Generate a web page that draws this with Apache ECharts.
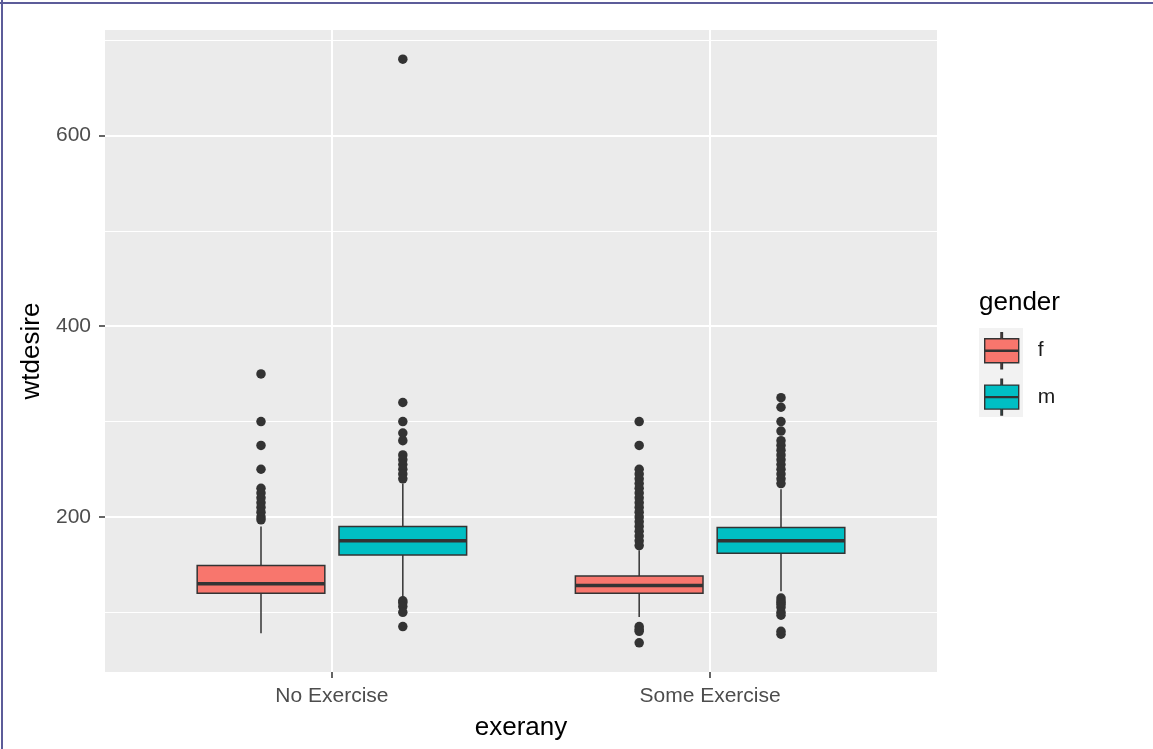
<!DOCTYPE html>
<html>
<head>
<meta charset="utf-8">
<title>wtdesire by exerany and gender</title>
<script src="https://cdn.jsdelivr.net/npm/echarts@6/dist/echarts.min.js"></script>
<style>
  html, body { margin: 0; padding: 0; background: #ffffff; }
  #chart { width: 1153px; height: 749px; }
</style>
</head>
<body>
<div id="chart"></div>
<script>
// Exercise groups on the x axis and the fill groups
const categories = ['No Exercise', 'Some Exercise'];
const genders = ['f', 'm'];

// Box statistics per exercise group: [lower whisker, Q1, median, Q3, upper whisker]
const femaleStats = [
  [78, 120, 130, 149, 190],
  [95, 120, 128, 138, 165]
];
const maleStats = [
  [115, 160, 175, 190, 235],
  [122, 162, 175, 189, 229]
];

// Outlying values per exercise group
const femaleOutliers = [
  [350, 300, 275, 250, 230, 225, 220, 215, 210, 205, 200, 197],
  [300, 275, 250, 245, 240, 235, 230, 225, 220, 215, 210, 205, 200, 195, 190, 185, 180, 175, 170,
   85, 82, 80, 68]
];
const maleOutliers = [
  [680, 320, 300, 288, 280, 265, 260, 255, 250, 245, 240,
   112, 110, 106, 100, 85],
  [325, 315, 300, 290, 280, 275, 270, 265, 260, 255, 250, 245, 240, 235,
   115, 112, 110, 108, 105, 100, 97, 80, 77]
];

// Tick values
const yTicks = [200, 400, 600];
const yMinorTicks = [100, 300, 500, 700];

const FILLS = { f: '#F8766D', m: '#00BFC4' };
const INK = '#333333';
const FONT = '"Liberation Sans", Arial, Helvetica, sans-serif';
const DODGE = 0.1875;      // offset of each box from its category centre
const HALF = 0.16875;      // half box width in category units

// continuous y range padded 5% on each side, discrete x range padded 0.6
const allValues = []
  .concat(...femaleStats, ...maleStats, ...femaleOutliers, ...maleOutliers);
const vMin = Math.min(...allValues);
const vMax = Math.max(...allValues);
const pad = (vMax - vMin) * 0.05;
const yMin = vMin - pad;
const yMax = vMax + pad;
const xMin = 1 - 0.6;
const xMax = categories.length + 0.6;

function boxData(stats) {
  return stats.map((s, i) => [i + 1].concat(s));
}
function outlierData(groups, offset) {
  const pts = [];
  groups.forEach((vals, i) => vals.forEach(v => pts.push([i + 1 + offset, v])));
  return pts;
}

function boxRenderer(offset, fill) {
  return function (params, api) {
    const x = api.value(0) + offset;
    const wLo = api.coord([x, api.value(1)]);
    const q1 = api.coord([x, api.value(2)]);
    const q3 = api.coord([x, api.value(4)]);
    const wHi = api.coord([x, api.value(5)]);
    const left = api.coord([x - HALF, api.value(4)]);
    const right = api.coord([x + HALF, api.value(2)]);
    const mL = api.coord([x - HALF, api.value(3)]);
    const mR = api.coord([x + HALF, api.value(3)]);
    return {
      type: 'group',
      children: [
        { type: 'line', shape: { x1: wLo[0], y1: wLo[1], x2: q1[0], y2: q1[1] },
          style: { stroke: INK, lineWidth: 1.5 } },
        { type: 'line', shape: { x1: q3[0], y1: q3[1], x2: wHi[0], y2: wHi[1] },
          style: { stroke: INK, lineWidth: 1.5 } },
        { type: 'rect',
          shape: { x: left[0], y: left[1], width: right[0] - left[0], height: right[1] - left[1] },
          style: { fill: fill, stroke: INK, lineWidth: 1.5 } },
        { type: 'line', shape: { x1: mL[0], y1: mL[1], x2: mR[0], y2: mR[1] },
          style: { stroke: INK, lineWidth: 3.5 } }
      ]
    };
  };
}

// legend glyph: box with whisker stems and a median bar
const KEY_ICON = 'path://M16.25,0 h1.5 v6 H34 V30 H17.75 v6 h-1.5 v-6 H0 V6 H16.25 Z M0,17.5 H34 V18.5 H0 Z';

const chart = echarts.init(document.getElementById('chart'), null, { renderer: 'canvas' });

chart.setOption({
  backgroundColor: '#ffffff',
  animation: false,
  textStyle: { fontFamily: FONT },
  title: {
    text: 'gender',
    left: 979,
    top: 290,
    padding: 0,
    textStyle: { fontFamily: FONT, fontSize: 26, fontWeight: 'normal', color: '#000000' }
  },
  legend: {
    orient: 'vertical',
    left: 984,
    top: 332,
    padding: 0,
    itemWidth: 34,
    itemHeight: 36,
    itemGap: 9,
    icon: KEY_ICON,
    itemStyle: { borderColor: INK, borderWidth: 1.4 },
    textStyle: { fontFamily: FONT, fontSize: 21, color: '#1a1a1a', padding: [0, 0, 0, 14] },
    data: genders.map(g => ({ name: g, itemStyle: { color: FILLS[g] } }))
  },
  graphic: [
    { type: 'rect', z: 0, shape: { x: 979, y: 328, width: 44, height: 89 },
      style: { fill: '#f2f2f2' } },
    { type: 'line', z: 10, shape: { x1: 0, y1: 3, x2: 1153, y2: 3 },
      style: { stroke: '#5c5c99', lineWidth: 2 } },
    { type: 'line', z: 10, shape: { x1: 2, y1: 0, x2: 2, y2: 749 },
      style: { stroke: '#5c5c99', lineWidth: 2 } }
  ],
  grid: {
    left: 105, top: 30, width: 832, height: 642,
    show: true, backgroundColor: '#ebebeb', borderWidth: 0
  },
  xAxis: {
    type: 'value',
    min: xMin,
    max: xMax,
    name: 'exerany',
    nameLocation: 'middle',
    nameGap: 43,
    nameTextStyle: { fontFamily: FONT, fontSize: 26, color: '#000000' },
    axisLine: { show: false },
    axisTick: { show: true, length: 6, customValues: [1, 2],
      lineStyle: { color: INK, width: 1.5 } },
    axisLabel: { customValues: [1, 2], margin: 14, fontFamily: FONT, fontSize: 21,
      color: '#4d4d4d', formatter: v => categories[Math.round(v) - 1] },
    splitLine: { show: true, lineStyle: { color: '#ffffff', width: 2 } }
  },
  yAxis: [
    {
      type: 'value',
      min: yMin,
      max: yMax,
      name: 'wtdesire',
      nameLocation: 'middle',
      nameGap: 57,
      nameTextStyle: { fontFamily: FONT, fontSize: 26, color: '#000000' },
      axisLine: { show: false },
      axisTick: { show: true, length: 6, customValues: yTicks,
        lineStyle: { color: INK, width: 1.5 } },
      axisLabel: { customValues: yTicks, margin: 14, fontFamily: FONT, fontSize: 21,
        color: '#4d4d4d' },
      splitLine: { show: true, lineStyle: { color: '#ffffff', width: 2 } },
      z: 1
    },
    {
      type: 'value',
      min: yMin,
      max: yMax,
      axisLine: { show: false },
      axisTick: { show: false, customValues: yMinorTicks },
      axisLabel: { show: false, customValues: yMinorTicks },
      splitLine: { show: true, lineStyle: { color: '#ffffff', width: 1.1 } },
      z: 0
    }
  ],
  series: [
    {
      name: 'f', type: 'custom', z: 2,
      renderItem: boxRenderer(-DODGE, FILLS.f),
      encode: { x: 0, y: [1, 2, 3, 4, 5] },
      itemStyle: { color: FILLS.f },
      data: boxData(femaleStats)
    },
    {
      name: 'm', type: 'custom', z: 2,
      renderItem: boxRenderer(DODGE, FILLS.m),
      encode: { x: 0, y: [1, 2, 3, 4, 5] },
      itemStyle: { color: FILLS.m },
      data: boxData(maleStats)
    },
    {
      name: 'f', type: 'scatter', z: 3,
      symbol: 'circle', symbolSize: 9.5,
      itemStyle: { color: INK, opacity: 1 },
      emphasis: { disabled: true },
      data: outlierData(femaleOutliers, -DODGE)
    },
    {
      name: 'm', type: 'scatter', z: 3,
      symbol: 'circle', symbolSize: 9.5,
      itemStyle: { color: INK, opacity: 1 },
      emphasis: { disabled: true },
      data: outlierData(maleOutliers, DODGE)
    }
  ]
});
</script>
</body>
</html>
